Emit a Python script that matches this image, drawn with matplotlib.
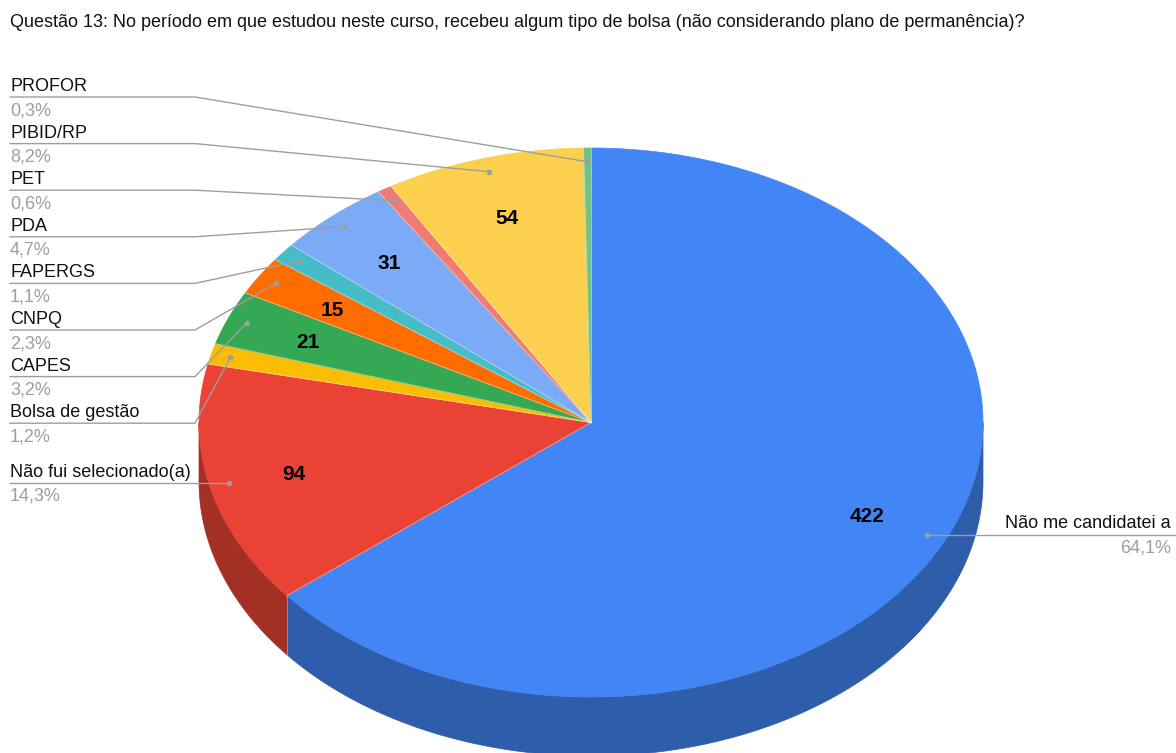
import numpy as np
import matplotlib
matplotlib.use("Agg")
import matplotlib.pyplot as plt
from matplotlib.patches import Polygon
from matplotlib.colors import to_rgb

plt.rcParams['font.family'] = ['Liberation Sans', 'DejaVu Sans']

# respostas da questão 13
categorias = ["Não me candidatei a", "Não fui selecionado(a)", "Bolsa de gestão", "CAPES",
              "CNPQ", "FAPERGS", "PDA", "PET", "PIBID/RP", "PROFOR"]
respostas = [422, 94, 8, 21, 15, 7, 31, 4, 54, 2]
cores = ["#4285F4", "#EA4335", "#FBBC04", "#34A853", "#FF6D01",
         "#46BDC6", "#7BAAF7", "#F07B72", "#FCD04F", "#71C287"]
titulo = ("Questão 13: No período em que estudou neste curso, recebeu algum tipo de bolsa "
          "(não considerando plano de permanência)?")

W, H = 1176, 753
fig = plt.figure(figsize=(W / 100, H / 100), dpi=100)
ax = fig.add_axes([0, 0, 1, 1])
ax.set_xlim(0, W)
ax.set_ylim(H, 0)
ax.axis('off')

# elipse do topo da pizza 3D (coordenadas em pixels)
cx, cy, rx, ry, prof = 591, 422.5, 392, 274.5, 59


def ponto(ang, f=1.0):
    t = np.radians(ang)
    return cx + f * rx * np.sin(t), cy - f * ry * np.cos(t)


def escurecer(c, k=0.7):
    return tuple(v * k for v in to_rgb(c))


total = sum(respostas)
fracoes = np.array(respostas) / total
angulos = np.concatenate([[0], np.cumsum(fracoes)]) * 360

for i, cor in enumerate(cores):
    a0, a1 = angulos[i], angulos[i + 1]
    # lateral visível (metade da frente)
    lo, hi = max(a0, 90), min(a1, 270)
    if hi > lo:
        th = np.linspace(lo, hi, 200)
        xs, ys = ponto(th)
        poly = np.column_stack([np.r_[xs, xs[::-1]], np.r_[ys, ys[::-1] + prof]])
        esc = escurecer(cor)
        ax.add_patch(Polygon(poly, closed=True, fc=esc, ec=esc, lw=0.5, zorder=1))
    # face de cima
    th = np.linspace(a0, a1, max(3, int((a1 - a0) * 3)))
    xs, ys = ponto(th)
    poly = np.column_stack([np.r_[cx, xs], np.r_[cy, ys]])
    ax.add_patch(Polygon(poly, closed=True, fc=cor, ec=cor, lw=0.5, zorder=2))

# linhas finas entre as fatias
for a in angulos[:-1]:
    x1, y1 = ponto(a)
    ax.plot([cx, x1], [cy, y1], color='white', lw=0.6, alpha=0.5, zorder=3)
    if 90 < a < 270:
        ax.plot([x1, x1], [y1, y1 + prof], color='white', lw=0.6, alpha=0.4, zorder=3)

# valores dentro das fatias
for i, v in enumerate(respostas):
    if fracoes[i] > 0.02:
        meio = (angulos[i] + angulos[i + 1]) / 2
        x, y = ponto(meio, 0.78)
        ax.text(x, y + 2, str(v), ha='center', va='center', fontsize=15,
                fontweight='bold', color='black', zorder=5)


def empilhar(desejado, gap, topo):
    # regressão isotônica para espaçar os rótulos sem sobreposição
    n = len(desejado)
    alvo = [d - i * gap for i, d in enumerate(desejado)]
    blocos = []
    for t in alvo:
        blocos.append([t, 1])
        while len(blocos) > 1 and blocos[-2][0] > blocos[-1][0]:
            m2, n2 = blocos.pop()
            m1, n1 = blocos.pop()
            blocos.append([(m1 * n1 + m2 * n2) / (n1 + n2), n1 + n2])
    z = []
    for m, k in blocos:
        z += [max(m, topo)] * k
    return [z[i] + i * gap for i in range(n)]


# rótulos externos com linhas-guia
pontos = []
for i in range(len(respostas)):
    meio = (angulos[i] + angulos[i + 1]) / 2
    pontos.append(ponto(meio, 0.95))

esq = sorted([i for i in range(len(respostas)) if pontos[i][0] < cx], key=lambda i: pontos[i][1])
dir_ = sorted([i for i in range(len(respostas)) if pontos[i][0] >= cx], key=lambda i: pontos[i][1])

cor_linha = '#9e9e9e'
cor_pct = '#9e9e9e'
cor_texto = '#111111'


def pct(i):
    return f"{100 * fracoes[i]:.1f}".replace('.', ',') + "%"


ys_esq = empilhar([pontos[i][1] for i in esq], 46.6, 97)
for i, y in zip(esq, ys_esq):
    px, py = pontos[i]
    ax.plot([10, 195, px], [y, y, py], color=cor_linha, lw=1, zorder=4)
    ax.plot(px, py, 'o', ms=3, color=cor_linha, zorder=6)
    ax.text(10, y - 6, categorias[i], ha='left', va='baseline', fontsize=13, color=cor_texto)
    ax.text(10, y + 18, pct(i), ha='left', va='baseline', fontsize=13, color=cor_pct)

ys_dir = empilhar([pontos[i][1] for i in dir_], 46.6, 97)
for i, y in zip(dir_, ys_dir):
    px, py = pontos[i]
    ax.plot([px, W - 185, W], [py, y, y], color=cor_linha, lw=1, zorder=4)
    ax.plot(px, py, 'o', ms=3, color=cor_linha, zorder=6)
    ax.text(W - 5, y - 7, categorias[i], ha='right', va='baseline', fontsize=13, color=cor_texto)
    ax.text(W - 5, y + 18, pct(i), ha='right', va='baseline', fontsize=13, color=cor_pct)

ax.text(10, 26.5, titulo, ha='left', va='baseline', fontsize=13, color=cor_texto)

fig.savefig("out.png", dpi=100, facecolor='white')
